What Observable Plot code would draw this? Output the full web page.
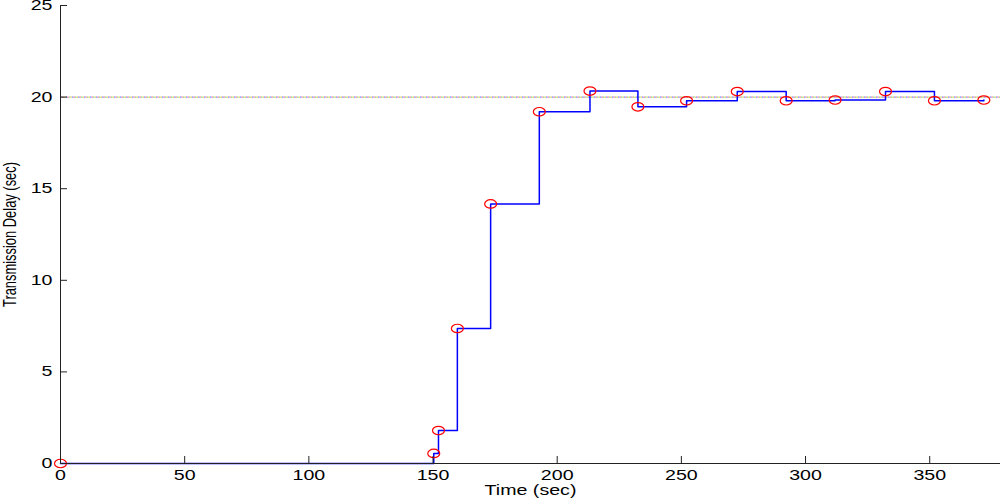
<!DOCTYPE html>
<html>
<head>
<meta charset="utf-8">
<script src="https://cdn.jsdelivr.net/npm/d3@7"></script>
<script src="https://cdn.jsdelivr.net/npm/@observablehq/plot@0.6"></script>
<style>
  html, body { margin: 0; padding: 0; background: #fff; }
  svg { display: block; }
</style>
</head>
<body>
<div id="chart"></div>
<script>
const times  = [0, 150.3, 152.2, 159.8, 173.2, 192.8, 213.2, 232.5, 252.1, 272.5, 292.2, 311.9, 332.2, 351.9, 371.8];
const delays = [0, 0.55, 1.8, 7.37, 14.17, 19.2, 20.33, 19.47, 19.8, 20.3, 19.8, 19.84, 20.3, 19.8, 19.84];
const xTicks = [0, 50, 100, 150, 200, 250, 300, 350];
const yTicks = [0, 5, 10, 15, 20, 25];
const target = [20];
const xLabel = "Time (sec)";
const yLabel = "Transmission Delay (sec)";

const data = times.map((t, i) => ({t, d: delays[i]}));

// ellipse-shaped marker (MATLAB 'o' stretched horizontally)
const ellipse = {
  draw(ctx, size) {
    const r = Math.sqrt(size / Math.PI);
    const rx = r * 1.3, ry = r * 0.92, k = 0.5523;
    ctx.moveTo(rx, 0);
    ctx.bezierCurveTo(rx, ry * k, rx * k, ry, 0, ry);
    ctx.bezierCurveTo(-rx * k, ry, -rx, ry * k, -rx, 0);
    ctx.bezierCurveTo(-rx, -ry * k, -rx * k, -ry, 0, -ry);
    ctx.bezierCurveTo(rx * k, -ry, rx, -ry * k, rx, 0);
    ctx.closePath();
  }
};

const dotColors = ["#5a6cff", "#ff6a8a", "#6ccf6c", "#e6c84a"];

const chart = Plot.plot({
  width: 1000,
  height: 498,
  marginLeft: 60,
  marginRight: 0,
  marginTop: 5,
  marginBottom: 35,
  style: {fontFamily: "'Liberation Sans', Arial, sans-serif", fontSize: "14px", color: "#000", background: "#fff", overflow: "visible"},
  x: {domain: [0, 378.5]},
  y: {domain: [0, 25]},
  marks: [
    ...dotColors.map((c, i) => Plot.ruleY(target, {stroke: c, strokeWidth: 1, strokeDasharray: "1.5,4.5", strokeDashoffset: -i * 1.5})),
    Plot.line(data, {x: "t", y: "d", curve: "step-after", stroke: "#0000ff", strokeWidth: 1.5}),
    Plot.dot(data, {x: "t", y: "d", symbol: ellipse, r: 4.6, stroke: "#ff0000", strokeWidth: 1.2, fill: "none"}),
    Plot.frame({anchor: "left", stroke: "#222"}),
    Plot.frame({anchor: "bottom", stroke: "#222"}),
    Plot.axisX(xTicks, {tickSize: -7, tickPadding: 14, fontSize: 14, stroke: "#222", label: null, tickFormat: d => String(d)}),
    Plot.axisY(yTicks, {tickSize: -7, tickPadding: 15, fontSize: 14, stroke: "#222", label: null, tickFormat: d => String(d)}),
    Plot.text([xLabel], {text: d => d, frameAnchor: "bottom", dy: 27, lineAnchor: "middle", textAnchor: "middle", fontSize: 14}),
    Plot.text([yLabel], {text: d => d, frameAnchor: "left", rotate: -90, dx: -51, lineAnchor: "middle", textAnchor: "middle", fontSize: 19})
  ]
});
document.getElementById("chart").appendChild(chart);

// MATLAB export stretched the text horizontally; mimic with textLength
const svg = d3.select(chart);
svg.selectAll("g[aria-label='x-axis tick label'] text, g[aria-label='y-axis tick label'] text")
  .each(function() {
    const w = this.getComputedTextLength();
    this.setAttribute("textLength", (w * 1.4).toFixed(1));
    this.setAttribute("lengthAdjust", "spacingAndGlyphs");
  });
svg.selectAll("g[aria-label='text'] text").each(function() {
  const s = this.textContent;
  const w = this.getComputedTextLength();
  if (s === xLabel) {
    this.setAttribute("textLength", (w * 1.4).toFixed(1));
  } else if (s === yLabel) {
    this.setAttribute("textLength", "145");
  }
  this.setAttribute("lengthAdjust", "spacingAndGlyphs");
});
</script>
</body>
</html>
